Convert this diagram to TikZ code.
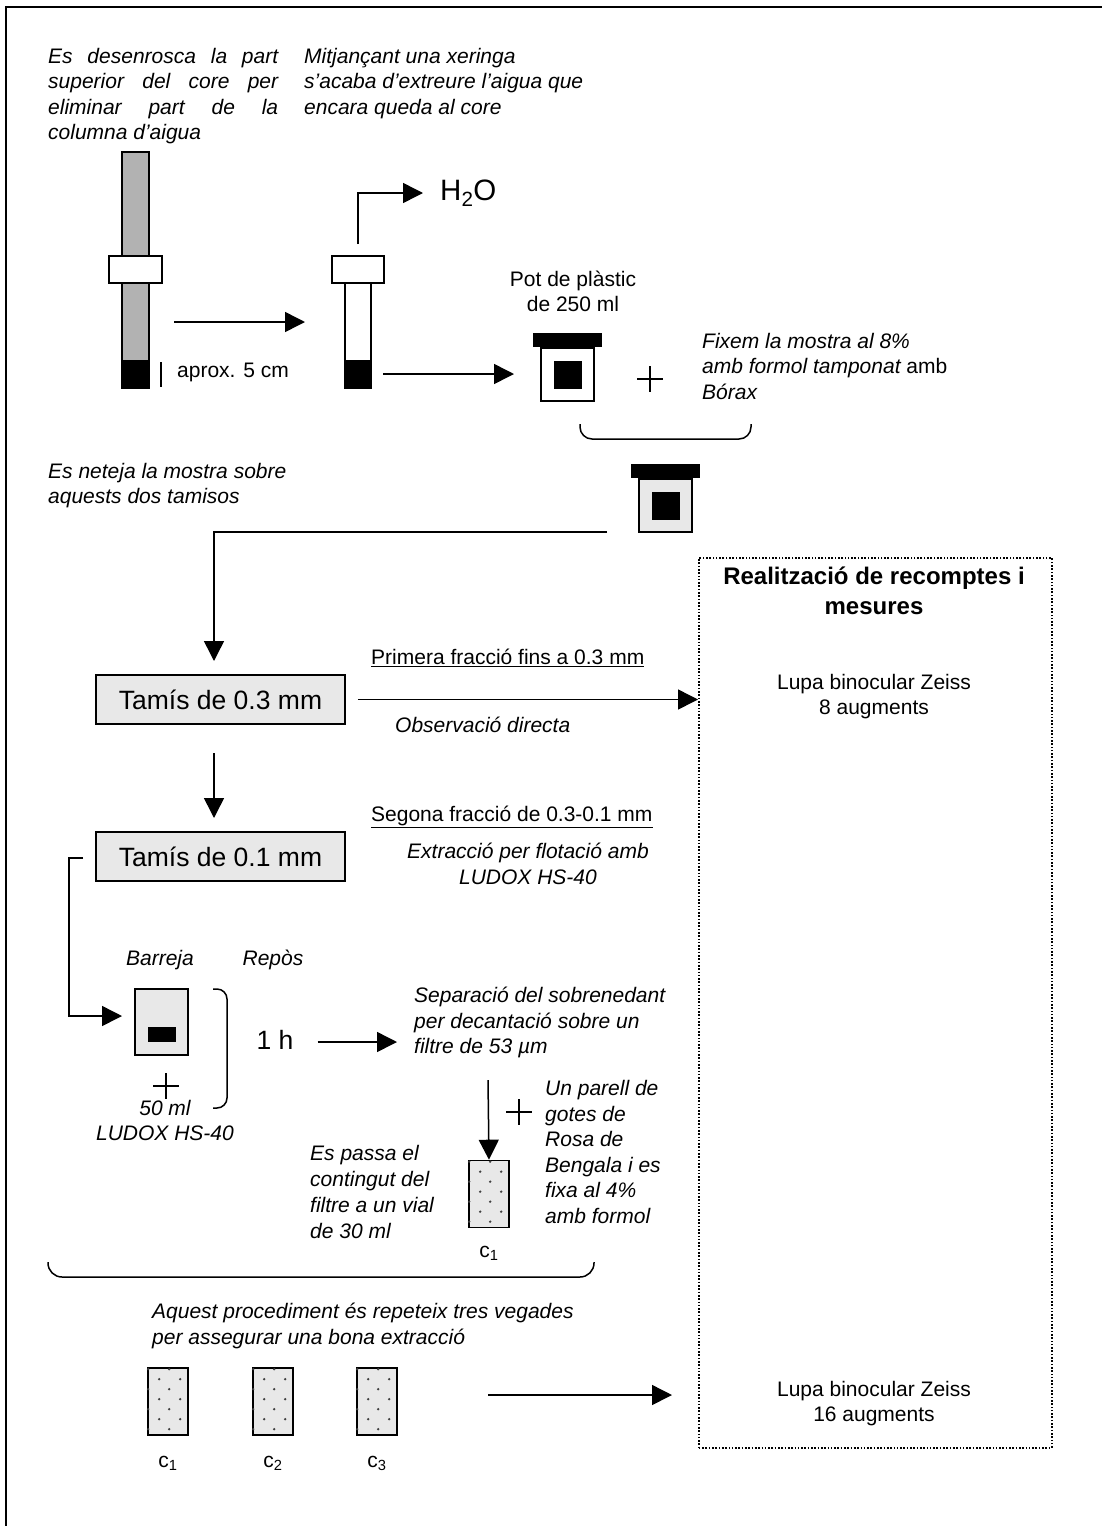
\documentclass[tikz,border=0pt]{standalone}
\usepackage{fontspec}
\setmainfont{Liberation Sans}
\usetikzlibrary{arrows.meta,positioning}

% punts dels vials
\newcommand\puntsvial[1]{%
  \foreach \dy in {2,22,42,62}{\foreach \dx in {1,22}{%
    \fill[black!75] ([shift={(\dx,\dy)}]#1.north west) circle[radius=1.3pt];}}%
  \foreach \dy in {12,32,52}{\foreach \dx in {12,33}{%
    \fill[black!75] ([shift={(\dx,\dy)}]#1.north west) circle[radius=1.3pt];}}}

\begin{document}
\begin{tikzpicture}[x=1pt,y=-1pt,font=\fontsize{21}{25.5}\selectfont,
  arr/.style={-{Triangle[length=20pt,width=20pt]},line width=1.5pt},
  txt/.style={inner sep=0,align=left,font=\fontsize{21}{25.5}\selectfont\itshape},
  rtxt/.style={inner sep=0,align=center},
  tamis/.style={draw,line width=1.5pt,fill=black!9,minimum width=249pt,minimum height=49pt,font=\fontsize{26.5}{30}\selectfont},
  pot/.style={draw,line width=1.5pt,minimum width=53pt,minimum height=53pt,inner sep=0},
  vial/.style={draw,line width=1.6pt,fill=black!9,minimum width=40pt,minimum height=67pt,inner sep=0},
  puntejat/.style={draw,line width=1.6pt,dash pattern=on 1.6pt off 1.7pt}]
\useasboundingbox (0,0) rectangle (1102,1526);
\draw[line width=1.6pt] (6,1526) -- (6,7) -- (1102,7);

% textos de dalt
\node[txt,text width=230pt,align=justify,anchor=north west] (tdesen) at (48,48)
  {Es desenrosca la part superior del core per eliminar part de la columna d'aigua};
\node[txt,anchor=north west] (txeringa) at (304,48)
  {Mitjançant una xeringa\\s'acaba d'extreure l'aigua que\\encara queda al core};

% core 1
\draw[line width=1.5pt,fill=black!30] (122,152) rectangle (149,388);
\fill (122,360) rectangle (149,388);
\draw[line width=1.5pt,fill=white] (109,256) rectangle (162,283);
\draw[line width=1.2pt] (161,362) -- (161,387);
\node[rtxt,anchor=west] (taprox) at (177,372) {aprox. 5 cm};
\coordinate (c1a) at (174,322);
\coordinate (c1b) at (305,322);
\draw[arr] (c1a) -- (c1b);

% core 2
\draw[line width=1.5pt,fill=white] (345,283) rectangle (371,388);
\fill (345,360) rectangle (371,388);
\draw[line width=1.5pt,fill=white] (332,256) rectangle (384,283);
\coordinate (c2top) at (358,244);
\node[inner sep=0,anchor=west,font=\fontsize{29.5}{32}\selectfont] (aigua) at (440,193) {H\textsubscript{2}O};
\draw[arr] (c2top) |- ([xshift=-17pt]aigua.west);
\coordinate (c2a) at (383,374);
\coordinate (c2b) at (514,374);
\draw[arr] (c2a) -- (c2b);

% pot de plastic
\node[pot,fill=white] (pot1) at (567.5,374.5) {};
\fill ([xshift=-7pt]pot1.north west) rectangle ([xshift=7pt,yshift=14pt]pot1.north east);
\fill (pot1.center) +(-14,-14) rectangle +(14,14);
\node[rtxt,anchor=south] (tpot) at (573,312) {Pot de plàstic\\de 250 ml};
\draw[line width=1.3pt] (650,366) -- (650,392) (637,379) -- (663,379);
\node[inner sep=0,align=left,anchor=north west] (tfix) at (702,333)
  {\itshape Fixem la mostra al 8\%\\\itshape amb formol tamponat \upshape amb\\\itshape Bórax};
\draw[line width=1.5pt,rounded corners=12pt] (580,424) -- (580,439) -- (751,439) -- (751,424);

\node[pot,fill=black!9] (pot2) at (665.5,505.5) {};
\fill ([xshift=-7pt]pot2.north west) rectangle ([xshift=7pt,yshift=14pt]pot2.north east);
\fill (pot2.center) +(-14,-14) rectangle +(14,14);

\node[txt,anchor=north west] (tneteja) at (48,463) {Es neteja la mostra sobre\\aquests dos tamisos};

% tamisos
\node[tamis] (tam1) at (220.5,699.5) {Tamís de 0.3 mm\hspace{10pt}};
\node[tamis] (tam2) at (220.5,856.5) {Tamís de 0.1 mm\hspace{10pt}};
\coordinate (p2out) at (607,532);
\coordinate (t1in) at (214,661);
\draw[arr] (p2out) -| (t1in);

% recomptes
\node[puntejat,minimum width=353pt,minimum height=890pt,anchor=north west] (recompte) at (698,557) {};
\node[rtxt,font=\fontsize{24}{30}\selectfont\bfseries,anchor=north] (trec) at (874,567) {Realització de recomptes i\\mesures};
\node[rtxt,anchor=north] (lupa1) at (874,674) {Lupa binocular Zeiss\\8 augments};
\node[rtxt,anchor=north] (lupa2) at (874,1381) {Lupa binocular Zeiss\\16 augments};

\draw[arr] ([xshift=12pt]tam1.east) -- (tam1.east -| recompte.west);
\node[rtxt,anchor=west] (tprim) at (371,658) {\underline{Primera fracció fins a 0.3 mm}};
\node[txt,anchor=west] (tobs) at (395,725) {Observació directa};

\coordinate (d1a) at (214,753);
\coordinate (d1b) at (214,818);
\draw[arr] (d1a) -- (d1b);
\node[rtxt,anchor=west] (tseg) at (371,817) {\underline{Segona fracció de 0.3-0.1 mm}};
\node[txt,align=center,anchor=north] (textr) at (528,843) {Extracció per flotació amb\\LUDOX HS-40};

% barreja amb ludox
\node[pot,fill=black!9,minimum width=53pt,minimum height=66pt] (barreja) at (161.5,1022) {};
\fill (148,1027) rectangle (176,1042);
\coordinate (t2out) at (83,858);
\coordinate (esq) at (69,858);
\coordinate (barin) at (122,1016);
\draw[arr] (t2out) -- (esq) |- (barin);
\node[txt,anchor=north] (tbarr) at (160,950) {Barreja};
\node[txt,anchor=north] (trepos) at (273,950) {Repòs};
\draw[line width=1.3pt] (166,1073) -- (166,1099) (153,1086) -- (179,1086);
\node[txt,align=center,anchor=north] (tludox) at (165,1100) {50 ml\\LUDOX HS-40};
\draw[line width=1.5pt,rounded corners=10pt] (213,989) -- (227,989) -- (227,1108) -- (213,1108);
\node[rtxt,font=\fontsize{26.5}{30}\selectfont] (thora) at (275,1040) {1 h};
\coordinate (hora2) at (397,1042);
\draw[arr] (thora.east |- hora2) ++(24,0) -- (hora2);
\node[txt,anchor=north west] (tsep) at (414,987)
  {Separació del sobrenedant\\per decantació sobre un\\filtre de 53 µm};

% vial
\node[vial] (vialf) at (489,1194) {};
\puntsvial{vialf}
\coordinate (filtre) at (488,1080);
\draw[arr] (filtre) -- (vialf.north);
\draw[line width=1.3pt] (519,1099) -- (519,1125) (506,1112) -- (532,1112);
\node[txt,anchor=north west,font=\fontsize{21}{25.6}\selectfont\itshape] (tgotes) at (545,1080)
  {Un parell de\\gotes de\\Rosa de\\Bengala i es\\fixa al 4\%\\amb formol};
\node[rtxt] (lvf) at (489,1253) {c\textsubscript{1}};
\node[txt,anchor=north west,font=\fontsize{21}{26}\selectfont\itshape] (tpassa) at (310,1145)
  {Es passa el\\contingut del\\filtre a un vial\\de 30 ml};
\draw[line width=1.5pt,rounded corners=14pt] (48,1262) -- (48,1277) -- (594,1277) -- (594,1262);

% repeticions
\node[txt,anchor=north west] (trep) at (152,1303)
  {Aquest procediment és repeteix tres vegades\\per assegurar una bona extracció};
\foreach \i/\x in {1/168,2/273,3/377}{
  \node[vial] (vial\i) at (\x,1401.5) {};
  \puntsvial{vial\i}
  \node[rtxt] (lv\i) at (\x,1463) {c\textsubscript{\i}};
}
\coordinate (rep) at (488,1395);
\draw[arr] (rep) -- (672,1395);
\end{tikzpicture}
\end{document}
